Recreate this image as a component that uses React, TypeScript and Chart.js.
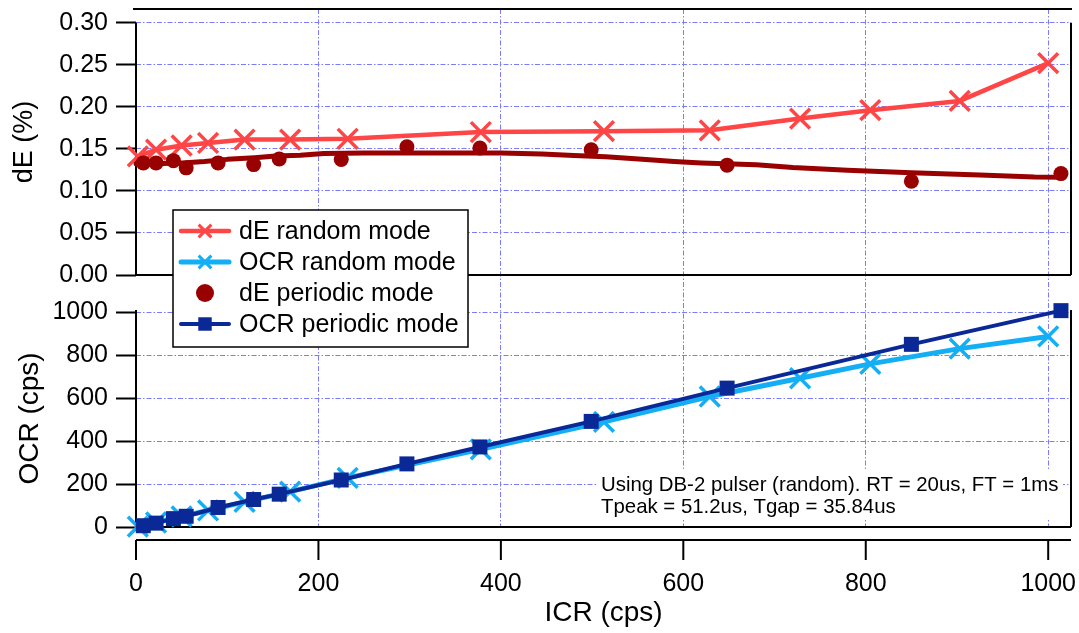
import React, { useEffect, useRef } from 'react';
import { Chart, registerables } from 'chart.js';

Chart.register(...registerables);

const FONT = "'Liberation Sans', Arial, Helvetica, sans-serif";

// ICR (x) values
const icrRandom = [2, 22, 50, 79, 119, 169, 232, 378, 513, 629, 728, 805, 903, 1000];
const icrPeriodic = [8, 22, 41, 55, 90, 129, 157, 225, 297, 377, 499, 648, 850, 1014];
const icrFit = [0, 30, 55, 75, 100, 130, 153, 180, 206, 250, 330, 400, 445, 480, 515, 555, 590, 620, 680, 720, 780, 850, 925, 985, 1016];

// dE (%) values
const dERandom = [0.141, 0.149, 0.154, 0.157, 0.161, 0.161, 0.162, 0.170, 0.171, 0.172, 0.186, 0.196, 0.207, 0.252];
const dEPeriodic = [0.1333, 0.1333, 0.136, 0.1274, 0.1333, 0.1313, 0.138, 0.1373, 0.1524, 0.151, 0.149, 0.1306, 0.1115, 0.1206];
const dEFit = [0.132, 0.1325, 0.1335, 0.135, 0.1375, 0.1395, 0.1415, 0.1425, 0.1445, 0.145, 0.1452, 0.145, 0.144, 0.142, 0.1405, 0.1375, 0.135, 0.1333, 0.131, 0.1278, 0.1245, 0.1215, 0.1188, 0.1165, 0.1163];

// OCR (cps) values
const ocrRandom = [2, 21, 49, 77, 117, 165, 229, 362, 490, 608, 693, 760, 831, 888];
const ocrPeriodic = [6, 18, 39, 50, 91, 128, 153, 219, 294, 373, 492, 647, 851, 1008];

// tick labels
const xTicks = [0, 200, 400, 600, 800, 1000];
const dETicks = [0, 0.05, 0.1, 0.15, 0.2, 0.25, 0.3];
const ocrTicks = [0, 200, 400, 600, 800, 1000];

const noteLines = [
  'Using DB-2 pulser (random). RT = 20us, FT = 1ms',
  'Tpeak = 51.2us, Tgap = 35.84us',
];

const RED = '#ff4545';
const CYAN = '#14aef5';
const DARKRED = '#990000';
const NAVY = '#0a2896';
const GRID = '#7b7bff';
const GRID_DASH = [5, 2, 1.5, 2];

const pts = (xs: number[], ys: number[]) => xs.map((x, i) => ({ x, y: ys[i] }));

function drawMarker(ctx: CanvasRenderingContext2D, style: string, x: number, y: number, r: number, color: string, lw: number) {
  ctx.save();
  ctx.fillStyle = color;
  ctx.strokeStyle = color;
  ctx.lineWidth = lw;
  if (style === 'crossRot') {
    const d = r * Math.SQRT1_2;
    ctx.beginPath();
    ctx.moveTo(x - d, y - d);
    ctx.lineTo(x + d, y + d);
    ctx.moveTo(x - d, y + d);
    ctx.lineTo(x + d, y - d);
    ctx.stroke();
  } else if (style === 'circle') {
    ctx.beginPath();
    ctx.arc(x, y, r, 0, Math.PI * 2);
    ctx.fill();
  } else if (style === 'rect') {
    const s = r * Math.SQRT1_2;
    ctx.fillRect(x - s, y - s, 2 * s, 2 * s);
  }
  ctx.restore();
}

const framePlugin = {
  id: 'frame',
  beforeDatasetsDraw(chart: any) {
    const { ctx, chartArea, scales } = chart;
    const yDE = scales.yDE;
    const yOCR = scales.yOCR;
    const x = scales.x;
    const L = chartArea.left;
    const R = chartArea.right;
    ctx.save();
    ctx.strokeStyle = '#000';
    ctx.lineWidth = 2;
    ctx.lineCap = 'butt';
    const line = (x1: number, y1: number, x2: number, y2: number) => {
      ctx.beginPath();
      ctx.moveTo(x1, y1);
      ctx.lineTo(x2, y2);
      ctx.stroke();
    };
    // top panel
    const deTop = yDE.getPixelForValue(dETicks[dETicks.length - 1]);
    line(L - 3, chartArea.top, R + 1, chartArea.top);
    line(L, deTop, L, yDE.bottom);
    line(R, deTop, R, yDE.bottom);
    line(L, yDE.bottom, R, yDE.bottom);
    // bottom panel
    line(L, yOCR.top, L, yOCR.bottom);
    line(R, yOCR.top, R, yOCR.bottom);
    line(L, yOCR.bottom, R, yOCR.bottom);
    // offset x axis
    const axY = chartArea.bottom + 13;
    line(L, axY, R, axY);
    xTicks.forEach((v) => {
      const px = x.getPixelForValue(v);
      line(px, axY, px, axY + 20);
    });
    ctx.restore();
  },
};

const legendNotePlugin = {
  id: 'legendNote',
  afterDraw(chart: any) {
    const { ctx } = chart;
    ctx.save();
    // legend box
    const bx = 173, by = 210, bw = 295, bh = 137;
    ctx.fillStyle = '#fff';
    ctx.fillRect(bx, by, bw, bh);
    ctx.strokeStyle = '#000';
    ctx.lineWidth = 1.5;
    ctx.strokeRect(bx, by, bw, bh);
    const items = chart.data.datasets.filter((d: any) => d.inLegend !== false);
    items.forEach((d: any, i: number) => {
      const yy = 231 + i * 31;
      if (d.showLine !== false) {
        ctx.save();
        ctx.strokeStyle = d.borderColor;
        ctx.lineWidth = d.borderWidth;
        ctx.lineCap = 'round';
        ctx.beginPath();
        ctx.moveTo(181, yy);
        ctx.lineTo(229, yy);
        ctx.stroke();
        ctx.restore();
      }
      drawMarker(ctx, d.pointStyle, 205, yy, d.legendRadius, d.borderColor, 3);
      ctx.fillStyle = '#000';
      ctx.font = `25px ${FONT}`;
      ctx.textAlign = 'left';
      ctx.textBaseline = 'middle';
      ctx.fillText(d.label, 239, yy + 1);
    });
    // note
    ctx.fillStyle = '#fff';
    ctx.fillRect(598, 471, 465, 48);
    ctx.fillStyle = '#000';
    ctx.font = `20.4px ${FONT}`;
    ctx.textAlign = 'left';
    ctx.textBaseline = 'middle';
    noteLines.forEach((t, i) => ctx.fillText(t, 601, 485 + i * 22));
    ctx.restore();
  },
};

const zeroPad = (s: any) => {
  s.paddingLeft = 0;
  s.paddingRight = 0;
  s.paddingTop = 0;
  s.paddingBottom = 0;
};

export default function App() {
  const ref = useRef<HTMLCanvasElement>(null);
  useEffect(() => {
    if (!ref.current) return;
    const tickFont = { family: FONT, size: 25 };
    const chart = new Chart(ref.current, {
      type: 'line',
      data: {
        datasets: [
          {
            label: 'dE random mode',
            data: pts(icrRandom, dERandom),
            yAxisID: 'yDE',
            borderColor: RED,
            backgroundColor: RED,
            borderWidth: 4.5,
            pointStyle: 'crossRot',
            pointRadius: 14,
            pointBorderWidth: 3.5,
            legendRadius: 9,
            order: 4,
          },
          {
            label: 'OCR random mode',
            data: pts(icrRandom, ocrRandom),
            yAxisID: 'yOCR',
            borderColor: CYAN,
            backgroundColor: CYAN,
            borderWidth: 5,
            pointStyle: 'crossRot',
            pointRadius: 14,
            pointBorderWidth: 3.5,
            legendRadius: 9,
            order: 3,
          },
          {
            label: 'dE periodic mode',
            data: pts(icrPeriodic, dEPeriodic),
            yAxisID: 'yDE',
            showLine: false,
            borderColor: DARKRED,
            backgroundColor: DARKRED,
            pointStyle: 'circle',
            pointRadius: 7.5,
            pointBorderWidth: 0,
            legendRadius: 9,
            order: 1,
          },
          {
            label: 'OCR periodic mode',
            data: pts(icrPeriodic, ocrPeriodic),
            yAxisID: 'yOCR',
            borderColor: NAVY,
            backgroundColor: NAVY,
            borderWidth: 4,
            pointStyle: 'rect',
            pointRadius: 10.6,
            pointBorderWidth: 0,
            legendRadius: 9.5,
            order: 0,
          },
          {
            label: 'dE periodic fit',
            data: pts(icrFit, dEFit),
            yAxisID: 'yDE',
            borderColor: DARKRED,
            backgroundColor: DARKRED,
            borderWidth: 5,
            pointRadius: 0,
            inLegend: false,
            order: 2,
          },
        ] as any,
      },
      options: {
        animation: false,
        responsive: false,
        devicePixelRatio: 1,
        layout: { autoPadding: false, padding: { top: 9, right: 8, left: 0, bottom: 0 } },
        elements: {
          line: { tension: 0, borderCapStyle: 'round', borderJoinStyle: 'round' },
        },
        datasets: { line: { clip: 24 } } as any,
        plugins: { legend: { display: false }, tooltip: { enabled: false } },
        scales: {
          x: {
            type: 'linear',
            min: 0,
            max: 1025,
            afterBuildTicks: (s: any) => { s.ticks = xTicks.map((v) => ({ value: v })); },
            afterFit: (s: any) => { s.height = 106; zeroPad(s); },
            grid: {
              color: (c: any) => (c.tick && c.tick.value === 0 ? 'rgba(0,0,0,0)' : GRID),
              lineWidth: 1,
              drawTicks: false,
            },
            border: { display: false, dash: GRID_DASH },
            ticks: { padding: 42, color: '#000', font: tickFont, maxRotation: 0, autoSkip: false, callback: (v: any) => String(v) },
            title: { display: true, text: 'ICR (cps)', color: '#000', font: { family: FONT, size: 28 }, padding: { top: 0, bottom: 3 } },
          },
          yDE: {
            type: 'linear',
            position: 'left',
            stack: 'v',
            stackWeight: 266,
            weight: 3,
            min: 0,
            max: 0.3163,
            afterBuildTicks: (s: any) => { s.ticks = dETicks.map((v) => ({ value: v })); },
            afterFit: (s: any) => { s.width = 136; zeroPad(s); },
            grid: {
              color: (c: any) => (c.tick && c.tick.value === 0 ? 'rgba(0,0,0,0)' : GRID),
              lineWidth: 1,
              tickLength: 20,
              tickColor: '#000',
              tickWidth: 2,
              tickBorderDash: [],
            },
            border: { display: false, dash: GRID_DASH },
            ticks: { padding: 8, color: '#000', font: tickFont, autoSkip: false, callback: (v: any) => Number(v).toFixed(2) },
            title: { display: true, text: 'dE (%)', color: '#000', font: { family: FONT, size: 27 }, padding: { top: 8, bottom: 0 } },
          },
          yGap: {
            type: 'linear',
            position: 'left',
            stack: 'v',
            stackWeight: 35,
            weight: 2,
            afterFit: (s: any) => { s.width = 136; zeroPad(s); },
            grid: { display: false },
            border: { display: false },
            ticks: { display: false },
          },
          yOCR: {
            type: 'linear',
            position: 'left',
            stack: 'v',
            stackWeight: 217,
            weight: 1,
            min: 0,
            max: 1011,
            afterBuildTicks: (s: any) => { s.ticks = ocrTicks.map((v) => ({ value: v })); },
            afterFit: (s: any) => { s.width = 136; zeroPad(s); },
            grid: {
              color: (c: any) => (c.tick && c.tick.value === 0 ? 'rgba(0,0,0,0)' : GRID),
              lineWidth: 1,
              tickLength: 20,
              tickColor: '#000',
              tickWidth: 2,
              tickBorderDash: [],
            },
            border: { display: false, dash: GRID_DASH },
            ticks: { padding: 8, color: '#000', font: tickFont, autoSkip: false, callback: (v: any) => String(v) },
            title: { display: true, text: 'OCR (cps)', color: '#000', font: { family: FONT, size: 28 }, padding: { top: 13, bottom: 0 } },
          },
        },
      } as any,
      plugins: [framePlugin, legendNotePlugin],
    });
    return () => chart.destroy();
  }, []);
  return (
    <div style={{ position: 'fixed', left: 0, top: 0, width: 1079, height: 633, background: '#fff' }}>
      <canvas ref={ref} width={1079} height={633} style={{ width: 1079, height: 633, display: 'block' }} />
    </div>
  );
}
